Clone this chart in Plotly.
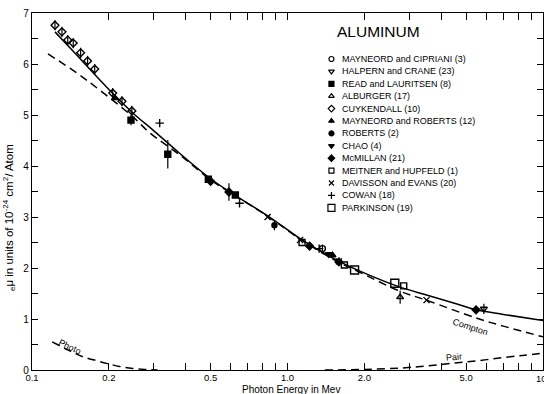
import plotly.graph_objects as go
import numpy as np

# ---- curves ----
total_x = [0.123, 0.15, 0.184, 0.2, 0.248, 0.3, 0.378, 0.5, 0.6, 0.85, 1.14, 1.55, 2.09, 2.74, 3.5, 4.5, 5.47, 7, 10]
total_y = [6.63, 6.17, 5.69, 5.50, 5.04, 4.69, 4.25, 3.75, 3.48, 3.0, 2.55, 2.16, 1.86, 1.63, 1.47, 1.31, 1.18, 1.09, 0.97]

compton_x = [0.1155, 0.15, 0.184, 0.25, 0.289, 0.378, 0.5, 0.6, 0.85, 1.14, 1.55, 1.91, 2.74, 3.49, 5.47, 7, 10]
compton_y = [6.2, 5.82, 5.49, 4.95, 4.65, 4.22, 3.73, 3.47, 2.99, 2.54, 2.14, 1.92, 1.55, 1.37, 1.02, 0.86, 0.65]

photo_x = [0.12, 0.14, 0.158, 0.18, 0.196, 0.22, 0.248, 0.28, 0.31]
photo_y = [0.55, 0.38, 0.26, 0.18, 0.13, 0.07, 0.03, 0.01, 0.0]

pair_x = [1.4, 2.0, 2.8, 3.5, 4.4, 5.5, 6.9, 8.5, 10]
pair_y = [0.0, 0.01, 0.04, 0.08, 0.13, 0.18, 0.24, 0.29, 0.33]

# ---- measured points ----
series = [
    # name, symbol, x, y, err
    ("MAYNEORD and CIPRIANI (3)", "circle-open", [1.37], [2.38], [0.08]),
    ("HALPERN and CRANE (23)", "triangle-down-open", [5.87], [1.2], [0.1]),
    ("READ and LAURITSEN (8)", "square", [0.244, 0.34, 0.49, 0.625], [4.9, 4.23, 3.74, 3.43], [0.1, 0.28, 0, 0]),
    ("ALBURGER (17)", "triangle-up-open", [2.76], [1.43], [0.13]),
    ("CUYKENDALL (10)", "diamond-open",
     [0.123, 0.131, 0.138, 0.145, 0.155, 0.165, 0.176, 0.207, 0.225, 0.246],
     [6.76, 6.63, 6.47, 6.41, 6.22, 6.06, 5.90, 5.43, 5.27, 5.08],
     [0.1] * 10),
    ("MAYNEORD and ROBERTS (12)", "triangle-up", [0.211, 1.5], [5.33, 2.25], [0, 0]),
    ("ROBERTS (2)", "circle", [0.889], [2.84], [0.1]),
    ("CHAO (4)", "triangle-down", [1.45], [2.27], [0]),
    ("McMILLAN (21)", "diamond", [0.5, 0.59, 1.22, 1.59, 5.47], [3.7, 3.49, 2.43, 2.12, 1.18], [0, 0.17, 0, 0, 0]),
    ("MEITNER and HUPFELD (1)", "square-open", [1.14, 1.67, 2.85], [2.5, 2.06, 1.65], [0, 0, 0]),
    ("DAVISSON and EVANS (20)", "x-thin-open", [0.836, 1.12, 1.59, 3.5], [3.0, 2.55, 2.13, 1.37], [0, 0, 0, 0]),
    ("COWAN (18)", "cross-thin-open", [0.316, 0.649, 1.33], [4.84, 3.27, 2.38], [0, 0, 0]),
    ("PARKINSON (19)", "square-open", [1.83, 2.63], [1.96, 1.7], [0, 0]),
]

xtick_vals = [0.1, 0.2, 0.3, 0.4, 0.5, 0.6, 0.7, 0.8, 0.9, 1, 2, 3, 4, 5, 6, 7, 8, 9, 10]
xtick_text = ["0.1", "0.2", "", "", "0.5", "", "", "", "", "1.0", "2.0", "", "", "5.0", "", "", "", "", ""]
last_xlabel = "10"
ytick_vals = [i * 0.5 for i in range(15)]
ytick_text = [str(int(v)) if v == int(v) else "" for v in ytick_vals]

FONT = "Liberation Sans"
fig = go.Figure()

line_style = dict(color="black", width=1.5)
fig.add_trace(go.Scatter(x=total_x, y=total_y, mode="lines", line=dict(line_style, shape="spline"), showlegend=False))
fig.add_trace(go.Scatter(x=compton_x, y=compton_y, mode="lines", line=dict(line_style, shape="spline", dash="8px,5px"), showlegend=False))
fig.add_trace(go.Scatter(x=photo_x, y=photo_y, mode="lines", line=dict(line_style, shape="spline", dash="8px,5px"), showlegend=False))
fig.add_trace(go.Scatter(x=pair_x, y=pair_y, mode="lines", line=dict(line_style, shape="spline", dash="8px,5px"), showlegend=False))

def msize(sym):
    if sym == "circle":
        return 5
    return 6

for name, sym, xs, ys, es in series:
    is_park = name.startswith("PARKINSON")
    fig.add_trace(go.Scatter(
        x=xs, y=ys, mode="markers", showlegend=False,
        marker=dict(symbol=sym, size=(8 if is_park else msize(sym)), color="black",
                    line=dict(color="black", width=1.4)),
        error_y=dict(type="data", array=es, visible=True, color="black", thickness=1.2, width=0),
    ))

# legend symbols on overlay axes (paper-like 0..1)
leg_x = 0.586
leg_top_px, leg_step_px = 59.0, 12.4
plot_top, plot_bot = 13, 370
for i, (name, sym, xs, ys, es) in enumerate(series):
    py = leg_top_px + i * leg_step_px
    yy = (plot_bot - py) / (plot_bot - plot_top)
    fig.add_trace(go.Scatter(
        x=[leg_x], y=[yy], xaxis="x2", yaxis="y2", mode="markers", showlegend=False,
        marker=dict(symbol=sym, size=(7 if name.startswith("PARKINSON") else 5), color="black",
                    line=dict(color="black", width=1.2)),
    ))
    fig.add_annotation(x=leg_x + 0.016, y=yy, xref="x2", yref="y2", text=name, showarrow=False,
                       xanchor="left", yanchor="middle", font=dict(family=FONT, size=9, color="black"))

fig.add_annotation(x=(336 - 32) / 512, y=(370 - 31) / 357, xref="paper", yref="paper", text="ALUMINUM",
                   showarrow=False, xanchor="left", yanchor="middle",
                   font=dict(family=FONT, size=15.5, color="black"))

# last x tick label (partly cut by the right edge, as in the original)
fig.add_annotation(x=np.log10(xtick_vals[-1]), y=(370 - 379) / 357, xref="x", yref="paper",
                   text=last_xlabel, showarrow=False, xanchor="center", yanchor="middle", xshift=-2,
                   font=dict(family=FONT, size=9.5, color="black"))

# curve labels
fig.add_annotation(x=np.log10(0.141), y=0.45, text="Photo", showarrow=False, textangle=25,
                   font=dict(family=FONT, size=9, color="black"))
fig.add_annotation(x=np.log10(5.18), y=0.84, text="Compton", showarrow=False, textangle=18,
                   font=dict(family=FONT, size=9, color="black"))
fig.add_annotation(x=np.log10(4.5), y=0.25, text="Pair", showarrow=False, textangle=-5,
                   font=dict(family=FONT, size=9, color="black"))

# axis titles
fig.add_annotation(x=(9 - 32) / 512, y=(370 - 218) / 357, xref="paper", yref="paper",
                   text="<sub>e</sub>μ in units of 10<sup>-24</sup> cm<sup>2</sup>/ Atom",
                   showarrow=False, textangle=-90, xanchor="center", yanchor="middle",
                   font=dict(family=FONT, size=11.5, color="black"))
fig.add_annotation(x=(292 - 32) / 512, y=(370 - 389.5) / 357, xref="paper", yref="paper",
                   text="Photon Energy in Mev", showarrow=False, xanchor="center", yanchor="middle",
                   font=dict(family=FONT, size=10, color="black"))

fig.update_layout(
    width=544, height=394,
    margin=dict(l=32, r=1, t=13, b=24),
    paper_bgcolor="white", plot_bgcolor="white",
    font=dict(family=FONT, size=10, color="black"),
    xaxis=dict(type="log", range=[-1, 1], tickvals=xtick_vals, ticktext=xtick_text,
               ticks="inside", ticklen=7, tickwidth=1.2, tickcolor="black",
               showline=True, linecolor="black", linewidth=1.3, mirror="allticks",
               showgrid=False, zeroline=False, tickfont=dict(size=9.5),
               ticklabelstandoff=-2, automargin=False),
    yaxis=dict(range=[0, 7], tickvals=ytick_vals, ticktext=ytick_text,
               ticks="inside", ticklen=6, tickwidth=1.2, tickcolor="black",
               showline=True, linecolor="black", linewidth=1.3, mirror="allticks",
               showgrid=False, zeroline=False, tickfont=dict(size=10), automargin=False),
    xaxis2=dict(range=[0, 1], overlaying="x", visible=False, fixedrange=True),
    yaxis2=dict(range=[0, 1], overlaying="y", visible=False, fixedrange=True),
)

fig.write_html("out.html")
